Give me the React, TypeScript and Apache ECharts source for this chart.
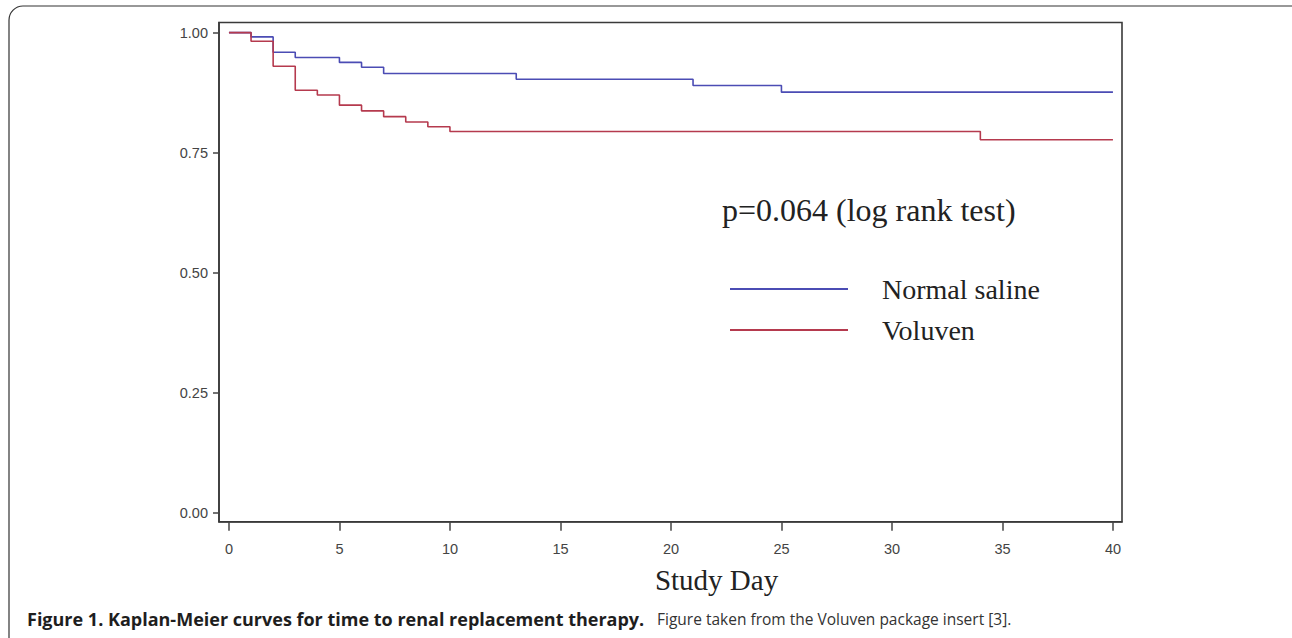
import React, { useEffect, useRef } from "react";
import * as echarts from "echarts";

const salineDays = [0, 1, 2, 3, 5, 6, 7, 13, 21, 25, 40];
const salineSurv = [1, 0.991, 0.959, 0.948, 0.938, 0.928, 0.915, 0.903, 0.89, 0.876, 0.876];
const voluvenDays = [0, 1, 2, 3, 4, 5, 6, 7, 8, 9, 10, 34, 40];
const voluvenSurv = [1, 0.982, 0.93, 0.88, 0.87, 0.849, 0.837, 0.825, 0.814, 0.804, 0.794, 0.777, 0.777];
const xTicks = [0, 5, 10, 15, 20, 25, 30, 35, 40];
const yTicks = [0, 0.25, 0.5, 0.75, 1];

const BLUE = "#4b4cb4";
const RED = "#b53a4e";
const SERIF = "'Liberation Serif', 'Times New Roman', serif";
const SANS = "'Liberation Sans', Arial, sans-serif";

export default function App() {
  const ref = useRef<HTMLDivElement>(null);
  useEffect(() => {
    document.body.style.margin = "0";
    const chart = echarts.init(ref.current!, null, { renderer: "svg" });
    const axisLabelStyle = { fontFamily: SANS, fontSize: 14.5, color: "#444" };
    const boxLine = { show: true, onZero: false, lineStyle: { color: "#3a3a3a", width: 1.6 } };
    chart.setOption({
      animation: false,
      backgroundColor: "#fff",
      grid: { left: 219, right: 170, top: 22.5, bottom: 116.3, containLabel: false },
      xAxis: {
        type: "value",
        min: -0.45,
        max: 40.41,
        axisLine: boxLine,
        axisTick: { show: true, inside: false, length: 9, customValues: xTicks, lineStyle: { color: "#444", width: 1.5 } },
        axisLabel: { ...axisLabelStyle, margin: 20, customValues: xTicks, formatter: (v: number) => String(v) },
        splitLine: { show: false },
        name: "Study Day",
        nameLocation: "middle",
        nameGap: 44,
        nameTextStyle: { fontFamily: SERIF, fontSize: 29, color: "#222", padding: [0, 0, 0, 92] },
      },
      yAxis: {
        type: "value",
        min: -0.018,
        max: 1.021,
        axisLine: boxLine,
        axisTick: { show: true, inside: false, length: 6, customValues: yTicks, lineStyle: { color: "#444", width: 1.5 } },
        axisLabel: { ...axisLabelStyle, margin: 11, customValues: yTicks, formatter: (v: number) => v.toFixed(2) },
        splitLine: { show: false },
      },
      legend: {
        orient: "vertical",
        left: 730,
        top: 274,
        padding: 0,
        icon: "rect",
        itemWidth: 118,
        itemHeight: 2,
        itemGap: 11,
        textStyle: { fontFamily: SERIF, fontSize: 28, color: "#222", lineHeight: 30, padding: [0, 0, 0, 29] },
        data: ["Normal saline", "Voluven"],
      },
      series: [
        {
          name: "Normal saline",
          type: "line",
          step: "end",
          showSymbol: false,
          color: BLUE,
          lineStyle: { width: 1.6, color: BLUE },
          data: salineDays.map((d, i) => [d, salineSurv[i]]),
        },
        {
          name: "Voluven",
          type: "line",
          step: "end",
          showSymbol: false,
          color: RED,
          lineStyle: { width: 1.6, color: RED },
          data: voluvenDays.map((d, i) => [d, voluvenSurv[i]]),
        },
      ],
      graphic: [
        {
          type: "rect",
          shape: { x: 9, y: 6, width: 1310, height: 660, r: 14 },
          style: { fill: "none", stroke: "#333", lineWidth: 1.2 },
          silent: true,
        },
        {
          type: "rect",
          shape: { x: 219, y: 22.5, width: 903, height: 499.2 },
          style: { fill: "none", stroke: "#3a3a3a", lineWidth: 1.6 },
          silent: true,
        },
        {
          type: "text",
          x: 722,
          y: 210,
          style: { text: "p=0.064 (log rank test)", fontFamily: SERIF, fontSize: 32, fill: "#222", verticalAlign: "middle" },
        },
        {
          type: "text",
          x: 27,
          y: 619,
          style: {
            text: "Figure 1. Kaplan-Meier curves for time to renal replacement therapy.",
            fontFamily: "'Open Sans', sans-serif",
            fontWeight: "bold",
            fontSize: 18,
            fill: "#1e1e1e",
            verticalAlign: "middle",
          },
        },
        {
          type: "text",
          x: 657,
          y: 619,
          style: {
            text: "Figure taken from the Voluven package insert [3].",
            fontFamily: "'Open Sans', sans-serif",
            fontSize: 15.5,
            fill: "#333",
            verticalAlign: "middle",
          },
        },
      ],
    });
    return () => chart.dispose();
  }, []);
  return <div ref={ref} style={{ position: "fixed", left: 0, top: 0, width: 1292, height: 638 }} />;
}
